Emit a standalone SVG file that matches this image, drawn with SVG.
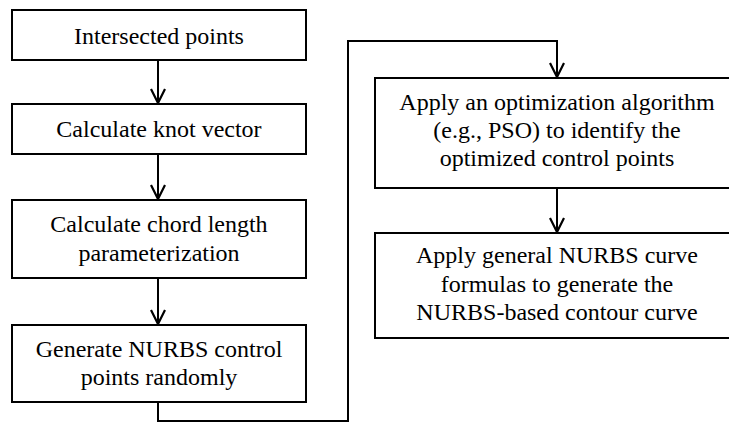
<svg xmlns="http://www.w3.org/2000/svg" width="729" height="423" viewBox="0 0 729 423">
  <defs>
    <marker id="head" markerUnits="userSpaceOnUse" markerWidth="20" markerHeight="20" viewBox="-12 -10 14 20" refX="0" refY="0" orient="auto">
      <path d="M -14,-7 L 0,0 L -14,7" fill="none" stroke="#000000" stroke-width="2.2"/>
    </marker>
  </defs>
  <rect width="729" height="423" fill="#ffffff"/>

  <!-- flow arrows, including the loop that carries step 4 over to the right column -->
  <g id="connectors" fill="none" stroke="#000000" stroke-width="2" marker-end="url(#head)">
    <path d="M158,60 V103"/>
    <path d="M158,154 V199"/>
    <path d="M158,278 V324"/>
    <path d="M158,402 V421 H348 V41 H557 V77"/>
    <path d="M557,188 V232"/>
  </g>

  <g font-family="Times New Roman, Liberation Serif, serif" font-size="24" fill="#000000" text-anchor="middle">
    <g id="intersected-points">
      <rect x="12" y="10" width="294" height="50" fill="#ffffff" stroke="#000000" stroke-width="2"/>
      <text x="159" y="44">Intersected points</text>
    </g>

    <g id="knot-vector">
      <rect x="12" y="104" width="294" height="50" fill="#ffffff" stroke="#000000" stroke-width="2"/>
      <text x="159" y="137">Calculate knot vector</text>
    </g>

    <g id="chord-length">
      <rect x="12" y="200" width="294" height="78" fill="#ffffff" stroke="#000000" stroke-width="2"/>
      <text x="159" y="232">Calculate chord length</text>
      <text x="159" y="261">parameterization</text>
    </g>

    <g id="control-points">
      <rect x="12" y="325" width="294" height="77" fill="#ffffff" stroke="#000000" stroke-width="2"/>
      <text x="159" y="357">Generate NURBS control</text>
      <text x="159" y="385">points randomly</text>
    </g>

    <g id="optimization">
      <rect x="375" y="78" width="364" height="110" fill="#ffffff" stroke="#000000" stroke-width="2"/>
      <text x="557" y="110">Apply an optimization algorithm</text>
      <text x="557" y="138">(e.g., PSO) to identify the</text>
      <text x="557" y="166">optimized control points</text>
    </g>

    <g id="nurbs-curve">
      <rect x="375" y="233" width="364" height="105" fill="#ffffff" stroke="#000000" stroke-width="2"/>
      <text x="557" y="263">Apply general NURBS curve</text>
      <text x="557" y="292">formulas to generate the</text>
      <text x="557" y="320">NURBS-based contour curve</text>
    </g>
  </g>
</svg>
